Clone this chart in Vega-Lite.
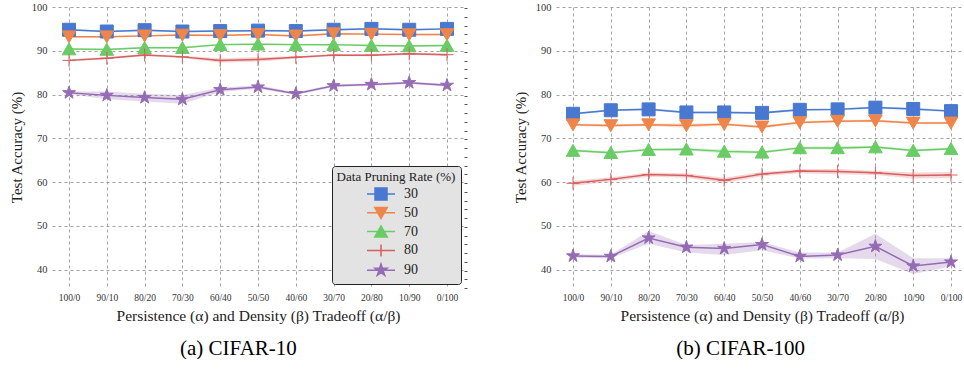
{
  "$schema": "https://vega.github.io/schema/vega-lite/v6.json",
  "background": "white",
  "padding": {"left": 9, "top": 2, "right": 0, "bottom": 0},
  "config": {
    "font": "Liberation Serif",
    "view": {"stroke": null},
    "axis": {
      "labelFont": "Liberation Serif",
      "titleFont": "Liberation Serif",
      "labelColor": "#333333",
      "titleColor": "#222222",
      "titleFontWeight": "normal",
      "gridColor": "#8c8c8c",
      "gridDash": [3, 3],
      "gridWidth": 0.8,
      "domain": false,
      "ticks": false
    },
    "legend": {
      "labelFont": "Liberation Serif",
      "titleFont": "Liberation Serif",
      "titleFontWeight": "normal"
    }
  },
  "datasets": {
    "c10": [
      {"r": "30", "x": "100/0", "y": 94.8, "lo": 94.6, "hi": 95.0},
      {"r": "30", "x": "90/10", "y": 94.4, "lo": 94.2, "hi": 94.6},
      {"r": "30", "x": "80/20", "y": 94.7, "lo": 94.5, "hi": 94.9},
      {"r": "30", "x": "70/30", "y": 94.4, "lo": 94.2, "hi": 94.6},
      {"r": "30", "x": "60/40", "y": 94.5, "lo": 94.3, "hi": 94.7},
      {"r": "30", "x": "50/50", "y": 94.6, "lo": 94.4, "hi": 94.8},
      {"r": "30", "x": "40/60", "y": 94.5, "lo": 94.3, "hi": 94.7},
      {"r": "30", "x": "30/70", "y": 94.8, "lo": 94.6, "hi": 95.0},
      {"r": "30", "x": "20/80", "y": 95.0, "lo": 94.8, "hi": 95.2},
      {"r": "30", "x": "10/90", "y": 94.8, "lo": 94.6, "hi": 95.0},
      {"r": "30", "x": "0/100", "y": 95.0, "lo": 94.8, "hi": 95.2},
      {"r": "50", "x": "100/0", "y": 93.2, "lo": 93.0, "hi": 93.4},
      {"r": "50", "x": "90/10", "y": 93.2, "lo": 93.0, "hi": 93.4},
      {"r": "50", "x": "80/20", "y": 93.4, "lo": 93.2, "hi": 93.6},
      {"r": "50", "x": "70/30", "y": 93.6, "lo": 93.4, "hi": 93.8},
      {"r": "50", "x": "60/40", "y": 93.5, "lo": 93.3, "hi": 93.7},
      {"r": "50", "x": "50/50", "y": 93.7, "lo": 93.5, "hi": 93.9},
      {"r": "50", "x": "40/60", "y": 93.4, "lo": 93.2, "hi": 93.6},
      {"r": "50", "x": "30/70", "y": 93.9, "lo": 93.7, "hi": 94.1},
      {"r": "50", "x": "20/80", "y": 93.8, "lo": 93.6, "hi": 94.0},
      {"r": "50", "x": "10/90", "y": 93.7, "lo": 93.5, "hi": 93.9},
      {"r": "50", "x": "0/100", "y": 93.7, "lo": 93.5, "hi": 93.9},
      {"r": "70", "x": "100/0", "y": 90.4, "lo": 90.2, "hi": 90.6},
      {"r": "70", "x": "90/10", "y": 90.3, "lo": 90.1, "hi": 90.5},
      {"r": "70", "x": "80/20", "y": 90.7, "lo": 90.5, "hi": 90.9},
      {"r": "70", "x": "70/30", "y": 90.7, "lo": 90.5, "hi": 90.9},
      {"r": "70", "x": "60/40", "y": 91.4, "lo": 91.2, "hi": 91.6},
      {"r": "70", "x": "50/50", "y": 91.5, "lo": 91.3, "hi": 91.7},
      {"r": "70", "x": "40/60", "y": 91.4, "lo": 91.2, "hi": 91.6},
      {"r": "70", "x": "30/70", "y": 91.4, "lo": 91.2, "hi": 91.6},
      {"r": "70", "x": "20/80", "y": 91.2, "lo": 91.0, "hi": 91.4},
      {"r": "70", "x": "10/90", "y": 91.1, "lo": 90.9, "hi": 91.3},
      {"r": "70", "x": "0/100", "y": 91.2, "lo": 91.0, "hi": 91.4},
      {"r": "80", "x": "100/0", "y": 87.8, "lo": 87.55, "hi": 88.05},
      {"r": "80", "x": "90/10", "y": 88.3, "lo": 88.05, "hi": 88.55},
      {"r": "80", "x": "80/20", "y": 89.0, "lo": 88.75, "hi": 89.25},
      {"r": "80", "x": "70/30", "y": 88.6, "lo": 88.35, "hi": 88.85},
      {"r": "80", "x": "60/40", "y": 87.8, "lo": 87.3, "hi": 88.3},
      {"r": "80", "x": "50/50", "y": 88.0, "lo": 87.5, "hi": 88.5},
      {"r": "80", "x": "40/60", "y": 88.5, "lo": 88.25, "hi": 88.75},
      {"r": "80", "x": "30/70", "y": 89.0, "lo": 88.75, "hi": 89.25},
      {"r": "80", "x": "20/80", "y": 89.0, "lo": 88.75, "hi": 89.25},
      {"r": "80", "x": "10/90", "y": 89.3, "lo": 89.05, "hi": 89.55},
      {"r": "80", "x": "0/100", "y": 89.1, "lo": 88.85, "hi": 89.35},
      {"r": "90", "x": "100/0", "y": 80.4, "lo": 80.1, "hi": 80.7},
      {"r": "90", "x": "90/10", "y": 79.8, "lo": 78.9, "hi": 80.7},
      {"r": "90", "x": "80/20", "y": 79.3, "lo": 78.4, "hi": 80.2},
      {"r": "90", "x": "70/30", "y": 78.9, "lo": 77.9, "hi": 79.9},
      {"r": "90", "x": "60/40", "y": 81.1, "lo": 80.6, "hi": 81.6},
      {"r": "90", "x": "50/50", "y": 81.7, "lo": 81.3, "hi": 82.1},
      {"r": "90", "x": "40/60", "y": 80.2, "lo": 79.9, "hi": 80.5},
      {"r": "90", "x": "30/70", "y": 82.0, "lo": 81.7, "hi": 82.3},
      {"r": "90", "x": "20/80", "y": 82.3, "lo": 82.0, "hi": 82.6},
      {"r": "90", "x": "10/90", "y": 82.7, "lo": 82.4, "hi": 83.0},
      {"r": "90", "x": "0/100", "y": 82.1, "lo": 81.8, "hi": 82.4}
    ],
    "c100": [
      {"r": "30", "x": "100/0", "y": 75.6, "lo": 75.35, "hi": 75.85},
      {"r": "30", "x": "90/10", "y": 76.4, "lo": 76.15, "hi": 76.65},
      {"r": "30", "x": "80/20", "y": 76.6, "lo": 76.35, "hi": 76.85},
      {"r": "30", "x": "70/30", "y": 75.9, "lo": 75.65, "hi": 76.15},
      {"r": "30", "x": "60/40", "y": 75.9, "lo": 75.65, "hi": 76.15},
      {"r": "30", "x": "50/50", "y": 75.8, "lo": 75.55, "hi": 76.05},
      {"r": "30", "x": "40/60", "y": 76.5, "lo": 76.25, "hi": 76.75},
      {"r": "30", "x": "30/70", "y": 76.6, "lo": 76.35, "hi": 76.85},
      {"r": "30", "x": "20/80", "y": 77.0, "lo": 76.75, "hi": 77.25},
      {"r": "30", "x": "10/90", "y": 76.7, "lo": 76.45, "hi": 76.95},
      {"r": "30", "x": "0/100", "y": 76.2, "lo": 75.95, "hi": 76.45},
      {"r": "50", "x": "100/0", "y": 73.1, "lo": 72.8, "hi": 73.4},
      {"r": "50", "x": "90/10", "y": 72.9, "lo": 72.6, "hi": 73.2},
      {"r": "50", "x": "80/20", "y": 73.1, "lo": 72.8, "hi": 73.4},
      {"r": "50", "x": "70/30", "y": 72.9, "lo": 72.4, "hi": 73.4},
      {"r": "50", "x": "60/40", "y": 73.2, "lo": 72.9, "hi": 73.5},
      {"r": "50", "x": "50/50", "y": 72.6, "lo": 72.3, "hi": 72.9},
      {"r": "50", "x": "40/60", "y": 73.6, "lo": 73.3, "hi": 73.9},
      {"r": "50", "x": "30/70", "y": 73.9, "lo": 73.6, "hi": 74.2},
      {"r": "50", "x": "20/80", "y": 74.0, "lo": 73.7, "hi": 74.3},
      {"r": "50", "x": "10/90", "y": 73.5, "lo": 73.2, "hi": 73.8},
      {"r": "50", "x": "0/100", "y": 73.5, "lo": 73.2, "hi": 73.8},
      {"r": "70", "x": "100/0", "y": 67.2, "lo": 66.9, "hi": 67.5},
      {"r": "70", "x": "90/10", "y": 66.7, "lo": 66.4, "hi": 67.0},
      {"r": "70", "x": "80/20", "y": 67.4, "lo": 67.1, "hi": 67.7},
      {"r": "70", "x": "70/30", "y": 67.5, "lo": 67.2, "hi": 67.8},
      {"r": "70", "x": "60/40", "y": 67.0, "lo": 66.5, "hi": 67.5},
      {"r": "70", "x": "50/50", "y": 66.8, "lo": 66.5, "hi": 67.1},
      {"r": "70", "x": "40/60", "y": 67.8, "lo": 67.5, "hi": 68.1},
      {"r": "70", "x": "30/70", "y": 67.8, "lo": 67.4, "hi": 68.2},
      {"r": "70", "x": "20/80", "y": 68.0, "lo": 67.7, "hi": 68.3},
      {"r": "70", "x": "10/90", "y": 67.2, "lo": 66.9, "hi": 67.5},
      {"r": "70", "x": "0/100", "y": 67.6, "lo": 67.3, "hi": 67.9},
      {"r": "80", "x": "100/0", "y": 59.7, "lo": 59.1, "hi": 60.3},
      {"r": "80", "x": "90/10", "y": 60.6, "lo": 60.1, "hi": 61.1},
      {"r": "80", "x": "80/20", "y": 61.7, "lo": 61.2, "hi": 62.2},
      {"r": "80", "x": "70/30", "y": 61.5, "lo": 61.0, "hi": 62.0},
      {"r": "80", "x": "60/40", "y": 60.4, "lo": 59.8, "hi": 61.0},
      {"r": "80", "x": "50/50", "y": 61.8, "lo": 61.3, "hi": 62.3},
      {"r": "80", "x": "40/60", "y": 62.5, "lo": 62.0, "hi": 63.0},
      {"r": "80", "x": "30/70", "y": 62.4, "lo": 61.8, "hi": 63.0},
      {"r": "80", "x": "20/80", "y": 62.1, "lo": 61.6, "hi": 62.6},
      {"r": "80", "x": "10/90", "y": 61.5, "lo": 60.8, "hi": 62.2},
      {"r": "80", "x": "0/100", "y": 61.6, "lo": 60.9, "hi": 62.3},
      {"r": "90", "x": "100/0", "y": 43.1, "lo": 42.7, "hi": 43.5},
      {"r": "90", "x": "90/10", "y": 43.0, "lo": 42.6, "hi": 43.4},
      {"r": "90", "x": "80/20", "y": 47.2, "lo": 45.9, "hi": 48.8},
      {"r": "90", "x": "70/30", "y": 45.1, "lo": 43.9, "hi": 45.6},
      {"r": "90", "x": "60/40", "y": 44.8, "lo": 43.3, "hi": 45.9},
      {"r": "90", "x": "50/50", "y": 45.7, "lo": 44.4, "hi": 46.3},
      {"r": "90", "x": "40/60", "y": 43.0, "lo": 42.5, "hi": 43.9},
      {"r": "90", "x": "30/70", "y": 43.3, "lo": 42.6, "hi": 43.9},
      {"r": "90", "x": "20/80", "y": 45.3, "lo": 42.4, "hi": 48.2},
      {"r": "90", "x": "10/90", "y": 40.8, "lo": 39.0, "hi": 42.6},
      {"r": "90", "x": "0/100", "y": 41.7, "lo": 40.7, "hi": 42.6}
    ]
  },
  "spacing": 45,
  "resolve": {"legend": {"color": "independent", "shape": "independent", "stroke": "independent"}},
  "hconcat": [
    {
      "width": 412,
      "height": 280,
      "data": {"name": "c10"},
      "title": {"text": "(a) CIFAR-10", "orient": "bottom", "frame": "bounds", "anchor": "middle", "fontSize": 21, "fontWeight": "normal", "font": "Liberation Serif", "color": "#000000", "offset": 14},
      "encoding": {
        "x": {
          "field": "x", "type": "ordinal",
          "sort": ["100/0", "90/10", "80/20", "70/30", "60/40", "50/50", "40/60", "30/70", "20/80", "10/90", "0/100"],
          "scale": {"padding": 0.45},
          "title": "Persistence (α) and Density (β) Tradeoff (α/β)",
          "axis": {"labelAngle": 0, "labelFontSize": 9.5, "labelPadding": 5, "titleFontSize": 15.5, "titlePadding": 7, "grid": true}
        }
      },
      "resolve": {"scale": {"y": "independent", "shape": "independent", "stroke": "independent", "color": "independent"}},
      "layer": [
        {
          "encoding": {
            "color": {"field": "r", "type": "nominal", "scale": {"domain": ["30", "50", "70", "80", "90"], "range": ["#4878d0", "#ee854a", "#6acc64", "#d65f5f", "#956cb4"]}, "legend": null},
            "y": {"field": "y", "type": "quantitative", "scale": {"domain": [36, 100], "nice": false, "zero": false},
                  "title": "Test Accuracy (%)",
                  "axis": {"values": [40, 50, 60, 70, 80, 90, 100], "labelFontSize": 10.5, "labelPadding": 5, "titleFontSize": 15, "titlePadding": 7, "grid": true}}
          },
          "layer": [
            {
              "mark": {"type": "area", "opacity": 0.25},
              "encoding": {
                "y": {"field": "lo", "type": "quantitative"},
                "y2": {"field": "hi"}
              }
            },
            {
              "mark": {"type": "line", "strokeWidth": 1.5},
              "encoding": {}
            },
            {
              "mark": {"type": "point", "filled": true, "opacity": 1, "strokeWidth": 1},
              "encoding": {
                "shape": {
                  "field": "r", "type": "nominal",
                  "scale": {"domain": ["30", "50", "70", "80", "90"], "range": ["M-1,-1H1V1H-1Z", "M-1.05,-0.9H1.05L0,0.95Z", "M-1.05,0.9H1.05L0,-0.95Z", "M-1,0H1M0,-1V1", "M0,-1.05L0.236,-0.324L0.999,-0.324L0.381,0.124L0.617,0.85L0,0.401L-0.617,0.85L-0.381,0.124L-0.999,-0.324L-0.236,-0.324Z"]},
                  "legend": null
                },
                "stroke": {"field": "r", "type": "nominal", "scale": {"domain": ["30", "50", "70", "80", "90"], "range": ["#4878d0", "#ee854a", "#6acc64", "#d65f5f", "#956cb4"]}, "legend": null},
                "size": {"value": 169}
              }
            }
          ]
        },
        {
          "mark": {"type": "point", "opacity": 0},
          "encoding": {
            "y": {"field": "y", "type": "quantitative", "scale": {"domain": [36, 100], "nice": false, "zero": false},
                  "axis": {"orient": "right", "values": [36, 38, 40, 42, 44, 46, 48, 50, 52, 54, 56, 58, 60, 62, 64, 66, 68, 70, 72, 74, 76, 78, 80, 82, 84, 86, 88, 90, 92, 94, 96, 98, 100], "labels": false, "ticks": true, "tickSize": 3, "tickWidth": 1, "tickColor": "#555555", "tickOffset": 1, "grid": false, "domain": false, "title": null}}
          }
        },
        {
          "mark": {"type": "point", "filled": true, "opacity": 0},
          "encoding": {
            "y": {"field": "y", "type": "quantitative", "scale": {"domain": [36, 100], "nice": false, "zero": false}, "axis": null},
            "size": {"value": 144},
            "color": {
              "field": "r", "type": "nominal",
              "scale": {"domain": ["30", "50", "70", "80", "90"], "range": ["#4878d0", "#ee854a", "#6acc64", "#d65f5f", "#956cb4"]},
              "legend": {
                "title": "Data Pruning Rate (%)",
                "orient": "bottom-right", "offset": 3,
                "fillColor": "#e3e3e3", "strokeColor": "#222222", "cornerRadius": 3, "padding": 5,
                "titleFontSize": 13, "titleAnchor": "middle", "titlePadding": 3, "titleColor": "#222222",
                "labelFontSize": 14, "labelColor": "#222222", "labelOffset": 16, "symbolOffset": 0,
                "symbolSize": 144, "symbolStrokeWidth": 1.5, "symbolOpacity": 1, "rowPadding": 0.8
              }
            },
            "shape": {
              "field": "r", "type": "nominal",
              "scale": {"domain": ["30", "50", "70", "80", "90"], "range": ["M-2.33,0H2.33M-1,-1H1V1H-1Z", "M-2.33,0H2.33M-1.05,-0.9H1.05L0,0.95Z", "M-2.33,0H2.33M-1.05,0.9H1.05L0,-0.95Z", "M-2.33,0H2.33M0,-1V1", "M-2.33,0H2.33M0,-1.05L0.236,-0.324L0.999,-0.324L0.381,0.124L0.617,0.85L0,0.401L-0.617,0.85L-0.381,0.124L-0.999,-0.324L-0.236,-0.324Z"]},
              "legend": {
                "title": "Data Pruning Rate (%)",
                "orient": "bottom-right", "offset": 3,
                "fillColor": "#e3e3e3", "strokeColor": "#222222", "cornerRadius": 3, "padding": 5,
                "titleFontSize": 13, "titleAnchor": "middle", "titlePadding": 3, "titleColor": "#222222",
                "labelFontSize": 14, "labelColor": "#222222", "labelOffset": 16, "symbolOffset": 0,
                "symbolSize": 144, "symbolStrokeWidth": 1.5, "symbolOpacity": 1, "rowPadding": 0.8
              }
            },
            "stroke": {
              "field": "r", "type": "nominal",
              "scale": {"domain": ["30", "50", "70", "80", "90"], "range": ["#4878d0", "#ee854a", "#6acc64", "#d65f5f", "#956cb4"]},
              "legend": {
                "title": "Data Pruning Rate (%)",
                "orient": "bottom-right", "offset": 3,
                "fillColor": "#e3e3e3", "strokeColor": "#222222", "cornerRadius": 3, "padding": 5,
                "titleFontSize": 13, "titleAnchor": "middle", "titlePadding": 3, "titleColor": "#222222",
                "labelFontSize": 14, "labelColor": "#222222", "labelOffset": 16, "symbolOffset": 0,
                "symbolSize": 144, "symbolStrokeWidth": 1.5, "symbolOpacity": 1, "rowPadding": 0.8
              }
            }
          }
        }
      ]
    },
    {
      "width": 412,
      "height": 280,
      "data": {"name": "c100"},
      "title": {"text": "(b) CIFAR-100", "orient": "bottom", "frame": "bounds", "anchor": "middle", "fontSize": 21, "fontWeight": "normal", "font": "Liberation Serif", "color": "#000000", "offset": 14},
      "encoding": {
        "x": {
          "field": "x", "type": "ordinal",
          "sort": ["100/0", "90/10", "80/20", "70/30", "60/40", "50/50", "40/60", "30/70", "20/80", "10/90", "0/100"],
          "scale": {"padding": 0.45},
          "title": "Persistence (α) and Density (β) Tradeoff (α/β)",
          "axis": {"labelAngle": 0, "labelFontSize": 9.5, "labelPadding": 5, "titleFontSize": 15.5, "titlePadding": 7, "grid": true}
        },
        "color": {"field": "r", "type": "nominal", "scale": {"domain": ["30", "50", "70", "80", "90"], "range": ["#4878d0", "#ee854a", "#6acc64", "#d65f5f", "#956cb4"]}, "legend": null},
        "y": {"field": "y", "type": "quantitative", "scale": {"domain": [36, 100], "nice": false, "zero": false},
              "title": "Test Accuracy (%)",
              "axis": {"values": [40, 50, 60, 70, 80, 90, 100], "labelFontSize": 10.5, "labelPadding": 5, "titleFontSize": 15, "titlePadding": 7, "grid": true}}
      },
      "layer": [
        {
          "mark": {"type": "area", "opacity": 0.25},
          "encoding": {
            "y": {"field": "lo", "type": "quantitative"},
            "y2": {"field": "hi"}
          }
        },
        {
          "mark": {"type": "line", "strokeWidth": 1.5},
          "encoding": {}
        },
        {
          "mark": {"type": "point", "filled": true, "opacity": 1, "strokeWidth": 1},
          "encoding": {
            "shape": {
              "field": "r", "type": "nominal",
              "scale": {"domain": ["30", "50", "70", "80", "90"], "range": ["M-1,-1H1V1H-1Z", "M-1.05,-0.9H1.05L0,0.95Z", "M-1.05,0.9H1.05L0,-0.95Z", "M-1,0H1M0,-1V1", "M0,-1.05L0.236,-0.324L0.999,-0.324L0.381,0.124L0.617,0.85L0,0.401L-0.617,0.85L-0.381,0.124L-0.999,-0.324L-0.236,-0.324Z"]},
              "legend": null
            },
            "stroke": {"field": "r", "type": "nominal", "scale": {"domain": ["30", "50", "70", "80", "90"], "range": ["#4878d0", "#ee854a", "#6acc64", "#d65f5f", "#956cb4"]}, "legend": null},
            "size": {"value": 169}
          }
        }
      ]
    }
  ]
}
